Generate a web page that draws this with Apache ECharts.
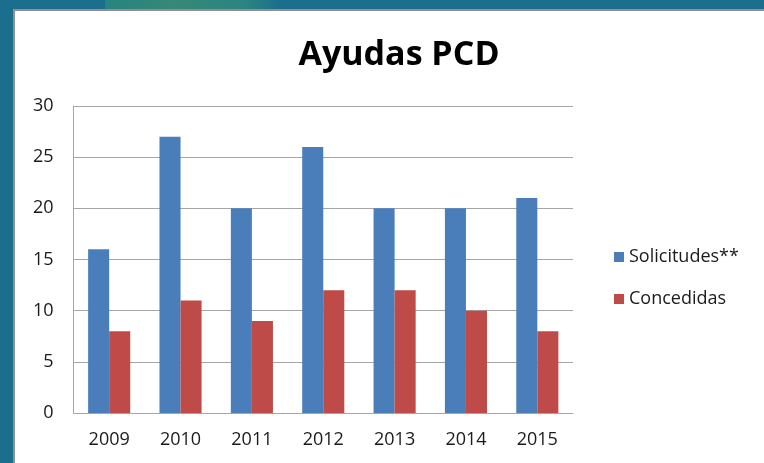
<!DOCTYPE html>
<html>
<head>
<meta charset="utf-8">
<script src="https://cdn.jsdelivr.net/npm/echarts@6/dist/echarts.min.js"></script>
<style>
  html, body { margin: 0; padding: 0; width: 764px; height: 463px; overflow: hidden; background: #1b6e8c; }
  #panel { position: absolute; left: 13px; top: 9px; width: 751px; height: 454px; background: #ffffff; border-top: 2px solid #8f8f96; border-left: 2px solid #8f8f96; box-sizing: border-box; }
  #strip { position: absolute; left: 105px; top: 0; width: 175px; height: 9px; background: linear-gradient(90deg, #2a8a7e, #3c8f6e 40%, #2f8a80 80%, #1b6e8c); opacity: 0.8; }
  #chart { position: absolute; left: 0; top: 0; width: 764px; height: 463px; }
</style>
</head>
<body>
<div id="strip"></div>
<div id="panel"></div>
<div id="chart"></div>
<script>
var years = ["2009", "2010", "2011", "2012", "2013", "2014", "2015"];
var solicitudes = [16, 27, 20, 26, 20, 20, 21];
var concedidas = [8, 11, 9, 12, 12, 10, 8];

var chart = echarts.init(document.getElementById("chart"));
var txt = "#1a1a1a";
chart.setOption({
  animation: false,
  title: {
    text: "Ayudas PCD",
    left: 394,
    top: 33,
    textAlign: "center",
    textStyle: { fontFamily: "Open Sans", fontWeight: "bold", fontSize: 34, color: "#000" }
  },
  legend: {
    orient: "vertical",
    left: 609,
    top: 243,
    itemWidth: 10,
    itemHeight: 10,
    itemGap: 24,
    icon: "rect",
    textStyle: { fontFamily: "Open Sans", fontSize: 18, color: txt },
    data: ["Solicitudes**", "Concedidas"]
  },
  grid: { left: 73.5, right: 191, top: 106, bottom: 50 },
  xAxis: {
    type: "category",
    data: years,
    axisLine: { lineStyle: { color: "#a6a6a6", width: 1 } },
    axisTick: { show: false },
    axisLabel: { fontFamily: "Open Sans", fontSize: 18, color: txt, margin: 18 }
  },
  yAxis: {
    type: "value",
    min: 0,
    max: 30,
    interval: 5,
    axisLine: { show: true, lineStyle: { color: "#a6a6a6", width: 1 } },
    axisTick: { show: false },
    axisLabel: { fontFamily: "Open Sans", fontSize: 18, color: txt, margin: 20 },
    splitLine: { lineStyle: { color: "#a6a6a6", width: 1 } }
  },
  series: [
    {
      name: "Solicitudes**",
      type: "bar",
      data: solicitudes,
      barGap: "0%",
      barCategoryGap: "41%",
      itemStyle: { color: "#4a7ebb" }
    },
    {
      name: "Concedidas",
      type: "bar",
      data: concedidas,
      itemStyle: { color: "#be4b48" }
    }
  ]
});
</script>
</body>
</html>
